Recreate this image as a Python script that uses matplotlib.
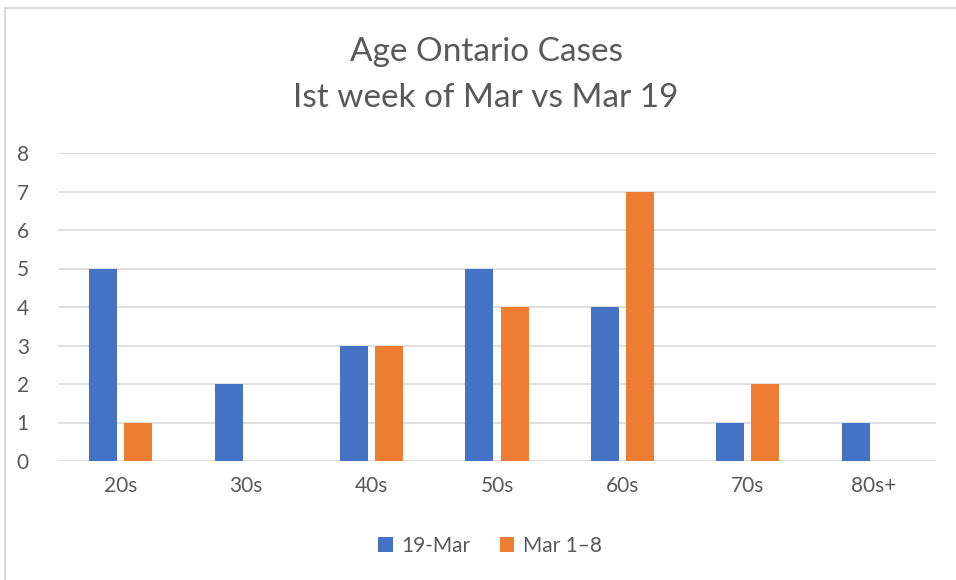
import matplotlib.pyplot as plt
import numpy as np

# Data
age_groups = ["20s", "30s", "40s", "50s", "60s", "70s", "80s+"]
mar19 = [5, 2, 3, 5, 4, 1, 1]
mar1_8 = [1, 0, 3, 4, 7, 2, 0]
series_names = ["19-Mar", "Mar 1\u20138"]

blue = "#4472C4"
orange = "#ED7D31"
text_gray = "#595959"

plt.rcParams['font.family'] = ['Lato', 'DejaVu Sans']

fig = plt.figure(figsize=(9.56, 5.8), dpi=100)
ax = fig.add_axes([58/956, (580-461)/580, (936-58)/956, (461-153)/580])

x = np.arange(len(age_groups))
w = 0.223
off = 0.14
ax.bar(x - off, mar19, w, color=blue, label=series_names[0], zorder=3)
ax.bar(x + off, mar1_8, w, color=orange, label=series_names[1], zorder=3)

ax.set_xlim(-0.5, len(age_groups) - 0.5)
ax.set_ylim(0, 8)
ax.set_yticks(range(0, 9))
ax.set_xticks(x)
ax.set_xticklabels(age_groups)
ax.grid(axis='y', color='#D9D9D9', linewidth=1.2, zorder=0)
for s in ax.spines.values():
    s.set_visible(False)
ax.tick_params(axis='both', length=0, colors=text_gray, labelsize=15)
ax.tick_params(axis='y', pad=21)
ax.tick_params(axis='x', pad=11)

fig.text(486/956, 1 - 52/580, "Age Ontario Cases", ha='center', va='center',
         fontsize=24, color=text_gray)
fig.text(486/956, 1 - 98/580, "Ist week of Mar vs Mar 19", ha='center', va='center',
         fontsize=24, color=text_gray)

fig.legend(loc='center', bbox_to_anchor=(490/956, 1 - 546/580), ncol=2, frameon=False,
           fontsize=15, handlelength=0.7, handleheight=0.7, handletextpad=0.4,
           columnspacing=1.4, labelcolor=text_gray)

# chart frame (top and left edges visible in the crop)
fig.add_artist(plt.Line2D([5/956, 1], [1 - 8/580, 1 - 8/580], color='#D9D9D9', linewidth=1.5))
fig.add_artist(plt.Line2D([5/956, 5/956], [0, 1 - 8/580], color='#D9D9D9', linewidth=1.5))

fig.savefig("out.png", dpi=100)
